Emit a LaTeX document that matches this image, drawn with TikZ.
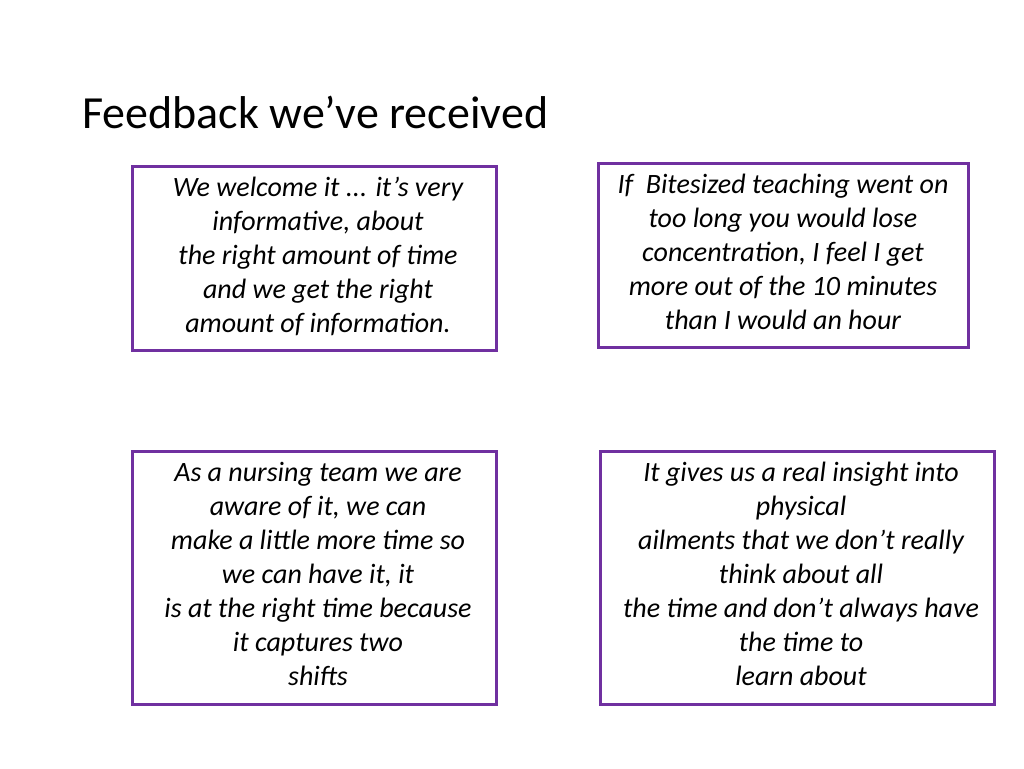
\documentclass[tikz,border=0pt]{standalone}
\usepackage{fontspec}
\setmainfont{Carlito}
\definecolor{pur}{HTML}{7030A0}
\begin{document}
\begin{tikzpicture}[x=1pt,y=-1pt,
  box/.style={draw=pur,line width=3pt},
  txt/.style={anchor=north,align=center,font=\itshape\fontsize{28}{34}\selectfont,inner sep=0pt}]
\useasboundingbox (0,0) rectangle (1024,768);
\node[anchor=base west,inner sep=0pt,font=\fontsize{46}{52}\selectfont] (title) at (82,128) {Feedback we’ve received};
\draw[box] (132,166) rectangle (496,350); \coordinate (b1) at (132,166);
\draw[box] (598,163) rectangle (968,347); \coordinate (b2) at (598,163);
\draw[box] (132,451) rectangle (496,704); \coordinate (b3) at (132,451);
\draw[box] (600,451) rectangle (994,704); \coordinate (b4) at (600,451);
\node[txt] (t1) at (318,177) {We welcome it ... it’s very\\informative, about\\the right amount of time\\and we get the right\\amount of information.};
\node[txt] (t2) at (783,174) {If\ \ Bitesized teaching went on\\too long you would lose\\concentration, I feel I get\\more out of the 10 minutes\\than I would an hour};
\node[txt] (t3) at (318,462) {As a nursing team we are\\aware of it, we can\\make a little more time so\\we can have it, it\\is at the right time because\\it captures two\\shifts};
\node[txt] (t4) at (801,462) {It gives us a real insight into\\physical\\ailments that we don’t really\\think about all\\the time and don’t always have\\the time to\\learn about};
\end{tikzpicture}
\end{document}
